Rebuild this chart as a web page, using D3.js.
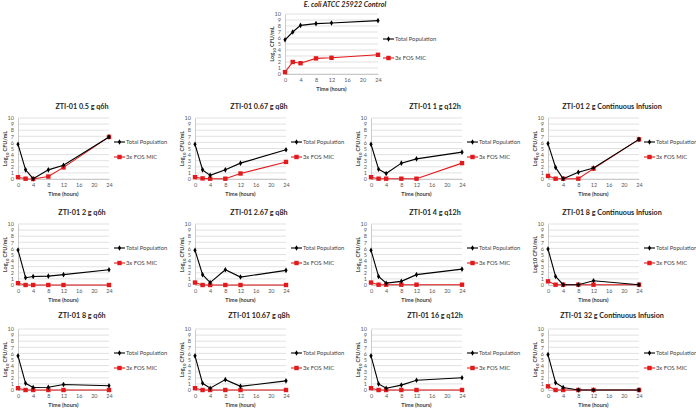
<!DOCTYPE html>
<html><head><meta charset="utf-8">
<script src="https://cdn.jsdelivr.net/npm/d3@7"></script>
<style>body{margin:0;background:#fff}svg{display:block}text{font-family:Lato,"Open Sans",sans-serif}</style>
</head><body><svg id="c" width="696" height="408"></svg>
<script>
const times = [0, 2, 4, 8, 12, 24];
const xTicks = [0, 4, 8, 12, 16, 20, 24];
const yTicks = [0, 1, 2, 3, 4, 5, 6, 7, 8, 9, 10];
const seriesNames = ["Total Population", "3x FOS MIC"];
const controlTitle = "E. coli ATCC 25922 Control";
const controlTotal = [5.7, 7.0, 8.1, 8.4, 8.5, 8.9];
const controlFos = [0.3, 2.0, 1.8, 2.6, 2.7, 3.2];
const panelTitles = [
  "ZTI-01 0.5 g q6h", "ZTI-01 0.67 g q8h", "ZTI-01 1 g q12h", "ZTI-01 2 g Continuous  Infusion",
  "ZTI-01 2 g q6h", "ZTI-01 2.67 g q8h", "ZTI-01 4 g q12h", "ZTI-01 8 g Continuous  Infusion",
  "ZTI-01 8 g q6h", "ZTI-01 10.67 g q8h", "ZTI-01 16 g q12h", "ZTI-01 32 g Continuous  Infusion"
];
const totalPop = [
  [5.7, 1.5, 0.05, 1.5, 2.25, 6.9],
  [5.7, 1.5, 0.6, 1.5, 2.6, 4.8],
  [5.7, 1.6, 0.9, 2.6, 3.3, 4.4],
  [5.8, 1.9, 0.05, 1.1, 1.8, 6.5],
  [5.75, 1.2, 1.4, 1.45, 1.7, 2.5],
  [5.7, 1.7, 0.4, 2.5, 1.3, 2.4],
  [5.7, 1.4, 0.3, 0.6, 1.7, 2.6],
  [5.9, 1.4, 0.05, 0.05, 0.7, 0.05],
  [5.6, 1.1, 0.4, 0.45, 0.9, 0.7],
  [5.6, 1.1, 0.3, 1.7, 0.6, 1.5],
  [5.6, 1.0, 0.3, 0.8, 1.6, 2.0],
  [5.8, 1.2, 0.4, 0.0, 0.0, 0.0]
];
const fosMic = [
  [0.3, 0.05, 0.0, 0.4, 1.9, 6.9],
  [0.3, 0.1, 0.05, 0.05, 0.9, 2.8],
  [0.3, 0.05, 0.05, 0.05, 0.05, 2.6],
  [0.5, 0.05, 0.05, 0.05, 1.7, 6.5],
  [0.3, 0.0, 0.0, 0.0, 0.0, 0.0],
  [0.4, 0.0, 0.0, 0.0, 0.0, 0.0],
  [0.4, 0.05, 0.05, 0.05, 0.05, 0.05],
  [0.6, 0.05, 0.05, 0.05, 0.05, 0.05],
  [0.3, 0.0, 0.0, 0.0, 0.0, 0.0],
  [0.3, 0.0, 0.0, 0.0, 0.0, 0.0],
  [0.3, 0.0, 0.0, 0.0, 0.0, 0.0],
  [0.6, 0.0, 0.0, 0.0, 0.0, 0.0]
];

const svg = d3.select("#c");
const colLeft = [18, 195, 371, 548];
const rowTop = [118, 224, 329];
const PW = 91, PH = 61;

function panel(left, top, w, h, title, tot, fos, opts) {
  const g = svg.append("g");
  const x = d3.scaleLinear().domain([0, 24]).range([left, left + w]);
  const y = d3.scaleLinear().domain([0, 10]).range([top + h, top]);
  // gridlines
  g.selectAll(".grid").data(yTicks).join("line")
    .attr("x1", left).attr("x2", left + w)
    .attr("y1", d => y(d)).attr("y2", d => y(d))
    .attr("stroke", "#d9d9d9").attr("stroke-width", 0.8);
  // y axis
  const ya = g.append("g").attr("transform", `translate(${left},0)`)
    .call(d3.axisLeft(y).tickValues(yTicks).tickSize(0).tickPadding(4));
  ya.select(".domain").attr("stroke", "#bfbfbf").attr("stroke-width", 0.8);
  ya.selectAll("text").attr("font-size", 5.5).attr("fill", "#595959");
  const xa = g.append("g").attr("transform", `translate(0,${top + h})`)
    .call(d3.axisBottom(x).tickValues(xTicks).tickSize(0).tickPadding(4));
  xa.select(".domain").attr("stroke", "#bfbfbf").attr("stroke-width", 0.8);
  xa.selectAll("text").attr("font-size", 5.5).attr("fill", "#595959");
  // axis titles
  g.append("text").attr("x", left + w / 2).attr("y", top + h + 17)
    .attr("text-anchor", "middle").attr("font-size", 5.5).attr("font-weight", "bold")
    .attr("fill", "#404040").text("Time (hours)");
  const yl = g.append("text").attr("transform", `translate(${left - 11},${top + h / 2}) rotate(-90)`)
    .attr("text-anchor", "middle").attr("font-size", 5.5).attr("font-weight", "bold").attr("fill", "#404040");
  if (opts.plainLog) {
    yl.text("Log10 CFU/mL");
  } else {
    yl.append("tspan").text("Log");
    yl.append("tspan").attr("font-size", 4).attr("dy", 1.5).text("10");
    yl.append("tspan").attr("dy", -1.5).text(" CFU/mL");
  }
  // title
  const tt = g.append("text").attr("x", left + opts.titleDx).attr("y", top - opts.titleDy)
    .attr("text-anchor", "middle").attr("font-size", 7.2).attr("font-weight", "bold")
    .attr("fill", "#262626").text(title);
  if (opts.italic) tt.attr("font-style", "italic");
  // lines
  const line = d3.line().x((d, i) => x(times[i])).y(d => y(d));
  g.append("path").datum(fos).attr("d", line).attr("fill", "none").attr("stroke", "#e31a1c").attr("stroke-width", 1.1);
  g.selectAll(".fm").data(fos).join("rect")
    .attr("x", (d, i) => x(times[i]) - 2.2).attr("y", d => y(d) - 2.2)
    .attr("width", 4.4).attr("height", 4.4).attr("fill", "#e31a1c");
  g.append("path").datum(tot).attr("d", line).attr("fill", "none").attr("stroke", "#000").attr("stroke-width", 1.1);
  const dia = d3.symbol().type(d3.symbolDiamond).size(9);
  g.selectAll(".tm").data(tot).join("path")
    .attr("transform", (d, i) => `translate(${x(times[i])},${y(d)})`)
    .attr("d", dia).attr("fill", "#000");
  // legend
  const lx = left + w + 5;
  const ly = [top + opts.legY[0], top + opts.legY[1]];
  const cols = ["#000", "#e31a1c"];
  seriesNames.forEach((name, i) => {
    g.append("line").attr("x1", lx).attr("x2", lx + 11).attr("y1", ly[i]).attr("y2", ly[i])
      .attr("stroke", cols[i]).attr("stroke-width", 1.1);
    if (i === 0) g.append("path").attr("transform", `translate(${lx + 5.5},${ly[i]})`).attr("d", dia).attr("fill", "#000");
    else g.append("rect").attr("x", lx + 3.3).attr("y", ly[i] - 2.2).attr("width", 4.4).attr("height", 4.4).attr("fill", cols[i]);
    g.append("text").attr("x", lx + 12).attr("y", ly[i]).attr("dy", "0.35em")
      .attr("font-size", 5.8).attr("fill", "#404040").text(name);
  });
}

panel(285, 14, 93, 60, controlTitle, controlTotal, controlFos,
  {titleDx: 60, titleDy: 7, italic: true, legY: [25, 44]});
panelTitles.forEach((t, k) => {
  const r = Math.floor(k / 4), c = k % 4;
  panel(colLeft[c], rowTop[r], PW, PH, t, totalPop[k], fosMic[k],
    {titleDx: 64, titleDy: r === 2 ? 11 : 9, legY: [24, 39], plainLog: k === 7});
});
</script></body></html>
